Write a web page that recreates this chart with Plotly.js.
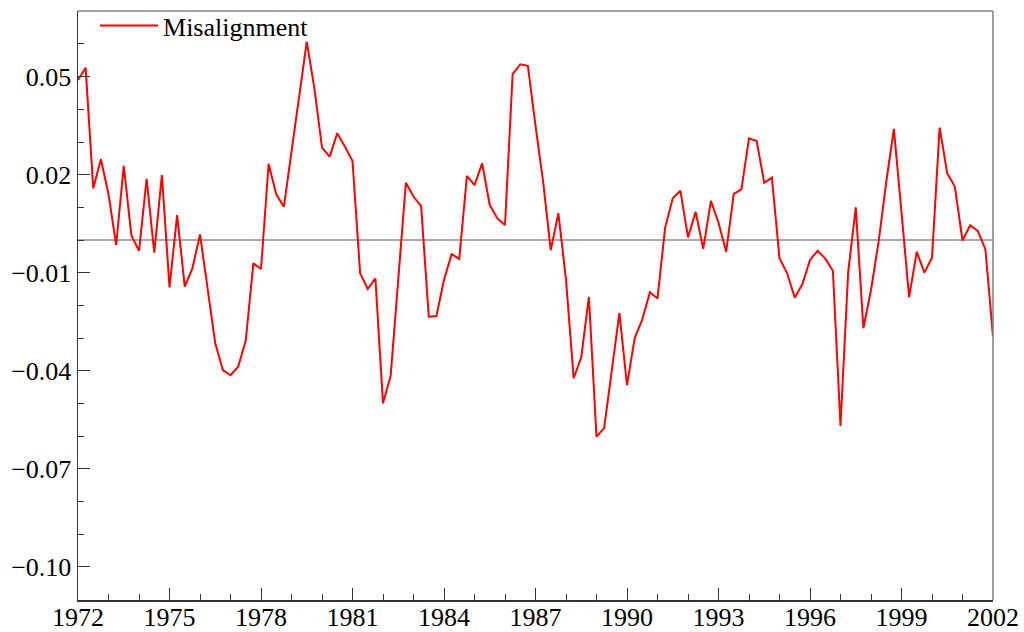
<!DOCTYPE html>
<html>
<head>
<meta charset="utf-8">
<script src="https://cdn.plot.ly/plotly-3.0.1.min.js"></script>
<style>html,body{margin:0;padding:0;background:#fff;}#chart{width:1024px;height:632px;}</style>
</head>
<body>
<div id="chart"></div>
<script>
// Quarterly series, 1972Q1 .. 2002Q1
const startYear = 1972;
const seriesName = "Misalignment";
const misalignment = [
  0.049, 0.0527, 0.0158, 0.0247, 0.014, -0.0015, 0.0227, 0.0014, -0.0033, 0.0187, -0.0039, 0.0199,
  -0.0145, 0.0076, -0.0143, -0.0087, 0.0017, -0.0153, -0.0316, -0.0398, -0.0414, -0.0388, -0.0308, -0.0071,
  -0.0089, 0.0233, 0.014, 0.0102, 0.027, 0.0439, 0.0607, 0.0464, 0.0283, 0.0255, 0.0327, 0.0286,
  0.0242, -0.0102, -0.015, -0.0117, -0.050, -0.0416, -0.012, 0.0175, 0.0133, 0.0104, -0.0235, -0.0233,
  -0.0122, -0.0043, -0.0058, 0.0196, 0.0168, 0.0235, 0.0107, 0.0066, 0.0046, 0.0508, 0.0538, 0.0533,
  0.035, 0.0178, -0.0031, 0.0082, -0.0122, -0.0423, -0.0359, -0.0174, -0.0602, -0.0576, -0.040, -0.0224,
  -0.0444, -0.0301, -0.0243, -0.016, -0.0179, 0.0038, 0.0128, 0.0151, 0.0008, 0.0086, -0.0027, 0.012,
  0.0053, -0.0036, 0.0141, 0.0155, 0.0311, 0.0303, 0.0175, 0.0191, -0.0056, -0.0102, -0.0177, -0.0135,
  -0.0061, -0.0033, -0.0057, -0.0094, -0.0569, -0.01, 0.01, -0.027, -0.0153, -0.0005, 0.0178, 0.034,
  0.0084, -0.0175, -0.0036, -0.01, -0.0054, 0.0344, 0.0204, 0.0163, -0.0002, 0.0045, 0.0028, -0.0028,
  -0.0296
];
const xTickVals = [1972, 1975, 1978, 1981, 1984, 1987, 1990, 1993, 1996, 1999, 2002];
const xTickText = ["1972", "1975", "1978", "1981", "1984", "1987", "1990", "1993", "1996", "1999", "2002"];
const yTickVals = [0.05, 0.02, -0.01, -0.04, -0.07, -0.10];

const xTime = misalignment.map((_, i) => startYear + i / 4);

const FONT = "'Liberation Serif', 'Times New Roman', Times, serif";
const AX = '#333333';

const trace = {
  x: xTime, y: misalignment, type: 'scatter', mode: 'lines',
  name: seriesName,
  line: {color: '#ff0000', width: 2}
};

const layout = {
  width: 1024, height: 632,
  margin: {l: 78, r: 31, t: 11, b: 32, pad: 0, autoexpand: false},
  paper_bgcolor: '#ffffff', plot_bgcolor: '#ffffff',
  font: {family: FONT, size: 26, color: '#000000'},
  showlegend: true,
  legend: {x: 0.0186, y: 1.0153, xanchor: 'left', yanchor: 'top', bgcolor: 'rgba(0,0,0,0)',
           itemwidth: 58,
           font: {family: FONT, size: 26, color: '#000'}},
  xaxis: {
    range: [1972, 2002], showgrid: false, zeroline: false,
    showline: true, linecolor: AX, linewidth: 1.5,
    ticks: 'inside', ticklen: 12, tickcolor: AX, tickwidth: 1,
    tickmode: 'array', tickvals: xTickVals, ticktext: xTickText,
    ticklabelstandoff: -7,
    minor: {dtick: 1, tick0: 1972, ticks: 'inside', ticklen: 6, tickcolor: AX, tickwidth: 1, showgrid: false},
    tickfont: {family: FONT, size: 26, color: '#000'}
  },
  yaxis: {
    range: [-0.1102, 0.0701], showgrid: false,
    zeroline: true, zerolinecolor: '#aaaaaa', zerolinewidth: 1.5,
    showline: true, linecolor: AX, linewidth: 1.5,
    ticks: 'inside', ticklen: 12, tickcolor: AX, tickwidth: 1,
    tickmode: 'array', tickvals: yTickVals, tickformat: '.2f',
    minor: {dtick: 0.01, tick0: 0, ticks: 'inside', ticklen: 6, tickcolor: AX, tickwidth: 1, showgrid: false},
    tickfont: {family: FONT, size: 26, color: '#000'}
  },
  shapes: [
    {type: 'line', xref: 'paper', yref: 'paper', x0: 0, x1: 1, y0: 1, y1: 1, line: {color: '#808080', width: 1.5}},
    {type: 'line', xref: 'paper', yref: 'paper', x0: 1, x1: 1, y0: 0, y1: 1, line: {color: '#808080', width: 1.5}}
  ]
};

Plotly.newPlot('chart', [trace], layout, {displayModeBar: false, staticPlot: true});
</script>
</body>
</html>
